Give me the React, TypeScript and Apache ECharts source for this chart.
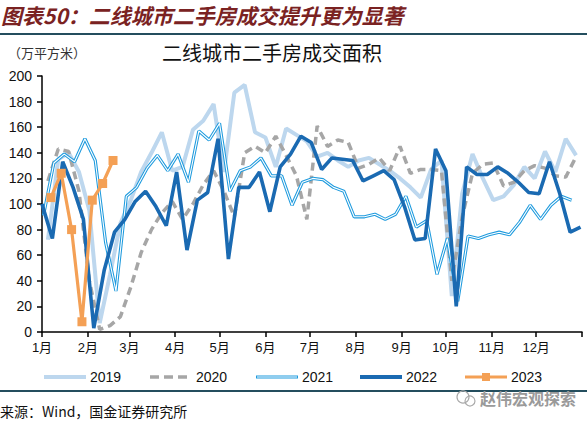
import React, { useEffect, useRef } from 'react';
import * as echarts from 'echarts';

const monthLabels = ['1月', '2月', '3月', '4月', '5月', '6月', '7月', '8月', '9月', '10月', '11月', '12月'];
const monthStartDays = [0, 31, 59, 90, 120, 151, 181, 212, 243, 273, 304, 334, 365];
const yTickLabels = [0, 20, 40, 60, 80, 100, 120, 140, 160, 180, 200];
const seriesNames = ['2019', '2020', '2021', '2022', '2023'];

// first weekly observation, day of year
const start2019 = 4;
const start2020 = 4;
const start2021 = 1;
const start2022 = 0;
const start2023 = 6;

// weekly transaction area, 10k m2
const v2019 = [72, 135, 140, 125, 95, 7, 45, 85, 103, 125, 140, 156, 126, 129, 158, 165, 178, 125, 187, 193, 156, 152, 129, 159, 154, 149, 137, 140, 134, 129, 134, 136, 131, 126, 120, 113, 105, 127, 134, 28, 108, 139, 120, 103, 106, 115, 129, 120, 141, 125, 151, 138];
const v2020 = [118, 143, 141, 110, 40, 2, 5, 12, 35, 62, 80, 93, 102, 88, 100, 115, 126, 110, 90, 140, 145, 140, 153, 138, 122, 88, 161, 145, 150, 148, 128, 131, 136, 126, 145, 124, 127, 127, 126, 40, 90, 124, 131, 132, 114, 117, 126, 130, 128, 122, 121, 137];
const v2021 = [91, 132, 139, 133, 151, 134, 70, 32, 106, 113, 128, 138, 126, 139, 117, 157, 150, 163, 110, 126, 129, 136, 122, 122, 99, 117, 120, 119, 113, 110, 90, 90, 92, 88, 92, 106, 82, 87, 45, 73, 24, 75, 73, 76, 78, 76, 86, 99, 88, 99, 106, 103];
const v2022 = [100, 73, 133, 113, 88, 3, 48, 78, 88, 102, 110, 98, 83, 125, 64, 103, 109, 151, 57, 113, 113, 125, 94, 129, 139, 153, 148, 127, 136, 135, 134, 118, 122, 126, 119, 98, 72, 73, 143, 126, 20, 129, 123, 123, 129, 124, 117, 109, 108, 133, 108, 78, 82];
const v2023 = [105, 124, 80, 8, 103, 116, 134];

const toPoints = (start: number, vals: number[]) => vals.map((v, i) => [start + 7 * i, v]);

const C2019 = '#BDD7EE';
const C2020 = '#A6A6A6';
const C2021 = '#1F9BDE';
const C2022 = '#1A6AB2';
const C2023 = '#F4A055';

const CJK = "'Noto Sans CJK SC', sans-serif";
const LAT = "'Liberation Sans', Arial, 'Noto Sans CJK SC', sans-serif";

export default function App() {
  const ref = useRef<HTMLDivElement>(null);
  useEffect(() => {
    if (!ref.current) return;
    const chart = echarts.init(ref.current, null, { renderer: 'svg' });
    const legendY = 377;
    const legendItems: any[] = [];
    const lx = [44, 150, 256, 360, 465];
    const lw = 42;
    // 2019
    legendItems.push({ type: 'line', shape: { x1: lx[0], y1: legendY, x2: lx[0] + lw, y2: legendY }, style: { stroke: C2019, lineWidth: 4 } });
    // 2020
    legendItems.push({ type: 'line', shape: { x1: lx[1], y1: legendY, x2: lx[1] + lw, y2: legendY }, style: { stroke: C2020, lineWidth: 3.5, lineDash: [9, 5] } });
    // 2021
    legendItems.push({ type: 'line', shape: { x1: lx[2], y1: legendY, x2: lx[2] + lw, y2: legendY }, style: { stroke: C2021, lineWidth: 3.2 } });
    legendItems.push({ type: 'line', shape: { x1: lx[2] + 1, y1: legendY, x2: lx[2] + lw - 1, y2: legendY }, style: { stroke: '#fff', lineWidth: 1.2 } });
    // 2022
    legendItems.push({ type: 'line', shape: { x1: lx[3], y1: legendY, x2: lx[3] + lw, y2: legendY }, style: { stroke: C2022, lineWidth: 4 } });
    // 2023
    legendItems.push({ type: 'line', shape: { x1: lx[4], y1: legendY, x2: lx[4] + lw, y2: legendY }, style: { stroke: C2023, lineWidth: 3 } });
    legendItems.push({ type: 'rect', shape: { x: lx[4] + lw / 2 - 4, y: legendY - 4, width: 8, height: 8 }, style: { fill: C2023 } });
    seriesNames.forEach((n, i) => {
      legendItems.push({ type: 'text', x: lx[i] + lw + 4, y: legendY, style: { text: n, fill: '#111', font: `14px ${LAT}`, textVerticalAlign: 'middle' } });
    });

    chart.setOption({
      animation: false,
      backgroundColor: '#fff',
      grid: { left: 42, right: 5, top: 76, bottom: 91 },
      xAxis: {
        type: 'value',
        min: 0,
        max: 365,
        axisLine: { lineStyle: { color: '#000', width: 1.5 } },
        axisTick: { show: true, length: 5, lineStyle: { color: '#000', width: 1.5 }, customValues: monthStartDays },
        axisLabel: {
          customValues: monthStartDays.slice(0, 12),
          formatter: (v: number) => monthLabels[monthStartDays.indexOf(Math.round(v))] || '',
          color: '#111',
          fontSize: 13,
          fontFamily: LAT,
          margin: 9,
        },
        splitLine: { show: false },
      },
      yAxis: {
        type: 'value',
        min: 0,
        max: 200,
        interval: 20,
        axisLine: { show: true, lineStyle: { color: '#000', width: 1.5 } },
        axisTick: { show: true, length: 5, lineStyle: { color: '#000', width: 1.5 } },
        axisLabel: { color: '#111', fontSize: 14, fontFamily: LAT, margin: 10, formatter: (v: number) => (yTickLabels.includes(v) ? String(v) : '') },
        splitLine: { show: false },
      },
      series: [
        { name: '2019', type: 'line', data: toPoints(start2019, v2019), showSymbol: false, symbol: 'none', lineStyle: { color: C2019, width: 4 }, itemStyle: { color: C2019 }, z: 1 },
        { name: '2020', type: 'line', data: toPoints(start2020, v2020), showSymbol: false, symbol: 'none', lineStyle: { color: C2020, width: 3.5, type: [8, 5] }, itemStyle: { color: C2020 }, z: 2 },
        { name: '2021', type: 'line', data: toPoints(start2021, v2021), showSymbol: false, symbol: 'none', lineStyle: { color: C2021, width: 3.2 }, itemStyle: { color: C2021 }, z: 3 },
        { name: '2021-inner', type: 'line', data: toPoints(start2021, v2021), showSymbol: false, symbol: 'none', lineStyle: { color: '#ffffff', width: 1.1 }, itemStyle: { color: '#fff' }, z: 4 },
        { name: '2022', type: 'line', data: toPoints(start2022, v2022), showSymbol: false, symbol: 'none', lineStyle: { color: C2022, width: 3.6 }, itemStyle: { color: C2022 }, z: 5 },
        { name: '2023', type: 'line', data: toPoints(start2023, v2023), symbol: 'rect', symbolSize: 9, lineStyle: { color: C2023, width: 3.2 }, itemStyle: { color: C2023 }, z: 6 },
      ],
      graphic: [
        { type: 'text', x: 1, y: 15, style: { text: '图表50：二线城市二手房成交提升更为显著', fill: '#7A2222', font: `italic bold 21px ${CJK}`, textVerticalAlign: 'middle' } },
        { type: 'rect', shape: { x: 0, y: 33, width: 587, height: 2 }, style: { fill: '#244E5E' } },
        { type: 'text', x: 8, y: 52, style: { text: '（万平方米）', fill: '#333', font: `13px ${CJK}`, textVerticalAlign: 'middle' } },
        { type: 'text', x: 272, y: 52, style: { text: '二线城市二手房成交面积', fill: '#111', font: `20px ${CJK}`, textAlign: 'center', textVerticalAlign: 'middle' } },
        ...legendItems,
        { type: 'rect', shape: { x: 0, y: 390, width: 587, height: 2 }, style: { fill: '#244E5E' } },
        { type: 'text', x: 0, y: 411, style: { text: '来源：Wind，国金证券研究所', fill: '#111', font: `14px ${CJK}`, textVerticalAlign: 'middle' } },
        { type: 'circle', shape: { cx: 463, cy: 397, r: 6 }, style: { fill: 'none', stroke: '#aaa', lineWidth: 1.2 } },
        { type: 'circle', shape: { cx: 470, cy: 401, r: 5 }, style: { fill: 'none', stroke: '#aaa', lineWidth: 1.2 } },
        { type: 'text', x: 480, y: 398, style: { text: '赵伟宏观探索', fill: '#9a9a9a', font: `bold 16px ${CJK}`, textVerticalAlign: 'middle' } },
      ],
    });
    return () => chart.dispose();
  }, []);
  return <div ref={ref} style={{ position: 'absolute', left: 0, top: 0, width: 587, height: 423 }} />;
}
